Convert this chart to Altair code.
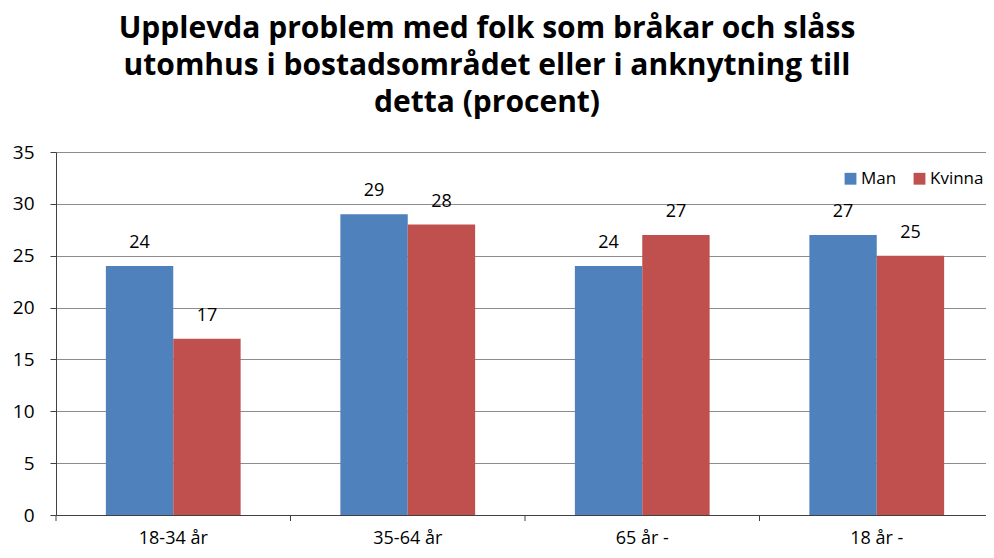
import altair as alt
import pandas as pd

categories = ["18-34 år", "35-64 år", "65 år -", "18 år -"]
series = ["Man", "Kvinna"]
man = [24, 29, 24, 27]
kvinna = [17, 28, 27, 25]
colors = ["#4F81BD", "#C0504D"]
y_ticks = [0, 5, 10, 15, 20, 25, 30, 35]

rows = []
for c, m, k in zip(categories, man, kvinna):
    rows.append({"cat": c, "serie": "Man", "val": m})
    rows.append({"cat": c, "serie": "Kvinna", "val": k})
df = pd.DataFrame(rows)
tick_df = pd.DataFrame({"cat": categories})

FONT = "Open Sans"
W, H = 930, 363
XRANGE = 938

x_enc = alt.X("cat:N", sort=categories,
              scale=alt.Scale(range=[0, XRANGE], paddingInner=0, paddingOuter=0),
              axis=alt.Axis(title=None, labelAngle=0, ticks=False, domain=True,
                            domainColor="#404040", labelFont=FONT, labelFontSize=18,
                            labelColor="#000000", labelPadding=14, grid=False))
xoff = alt.XOffset("serie:N", sort=series,
                   scale=alt.Scale(paddingInner=0, paddingOuter=0.74))

bars = alt.Chart(df).mark_bar().encode(
    x=x_enc,
    xOffset=xoff,
    y=alt.Y("val:Q", scale=alt.Scale(domain=[0, 35], nice=False),
            axis=alt.Axis(title=None, values=y_ticks, grid=True, gridColor="#8c8c8c",
                          domainColor="#404040", tickColor="#404040", tickSize=6,
                          labelFont=FONT, labelFontSize=19, labelColor="#000000",
                          labelPadding=16)),
    color=alt.Color("serie:N", sort=series,
                    scale=alt.Scale(domain=series, range=colors),
                    legend=alt.Legend(title=None, orient="none", legendX=786, legendY=18,
                                      direction="horizontal", symbolType="square",
                                      symbolSize=140, symbolStrokeWidth=0,
                                      labelFont=FONT, labelFontSize=17, labelOffset=2,
                                      labelColor="#000000", columnPadding=14,
                                      symbolOpacity=1)),
)

labels = alt.Chart(df).mark_text(baseline="alphabetic", dy=-18, font=FONT, fontSize=18,
                                 color="#000000").encode(
    x=alt.X("cat:N", sort=categories),
    xOffset=xoff,
    y=alt.Y("val:Q"),
    text=alt.Text("val:Q"),
)

ticks = alt.Chart(tick_df).mark_rule(color="#404040", strokeWidth=1).encode(
    x=alt.X("cat:N", sort=categories, bandPosition=0),
    y=alt.value(H),
    y2=alt.value(H + 6),
)

chart = alt.layer(bars, labels, ticks).properties(
    width=W, height=H,
    title=alt.TitleParams(
        text=["Upplevda problem med folk som bråkar och slåss",
              "utomhus i bostadsområdet eller i anknytning till",
              "detta (procent)"],
        font=FONT, fontSize=30, fontWeight="bold", color="#000000",
        anchor="middle", dx=-34, lineHeight=37, offset=25),
    autosize=alt.AutoSizeParams(type="none"),
    padding={"left": 48, "top": 144, "right": 0, "bottom": 35},
).configure_view(stroke=None).configure_axis(labelFlush=False)

chart.save("out.html", embed_options={"renderer": "svg", "actions": False})
